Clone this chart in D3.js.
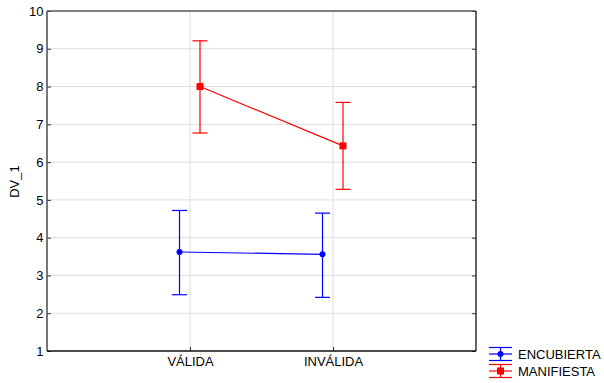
<!DOCTYPE html>
<html>
<head>
<meta charset="utf-8">
<script src="https://cdn.jsdelivr.net/npm/d3@7"></script>
<style>
  body { margin: 0; background: #fff; }
  svg { display: block; font-family: "Liberation Sans", Arial, sans-serif; }
</style>
</head>
<body>
<svg id="chart" width="604" height="383"></svg>
<script>
// Conditions on the x axis
const categories = ["VÁLIDA", "INVÁLIDA"];
// Y axis ticks
const yTicks = [1, 2, 3, 4, 5, 6, 7, 8, 9, 10];

// Group means with lower / upper limits of the confidence interval
const seriesNames = ["ENCUBIERTA", "MANIFIESTA"];
const encubiertaMean  = [3.62, 3.56];
const encubiertaLower = [2.49, 2.42];
const encubiertaUpper = [4.72, 4.65];
const manifiestaMean  = [8.00, 6.43];
const manifiestaLower = [6.77, 5.28];
const manifiestaUpper = [9.21, 7.58];

const series = [
  { name: seriesNames[0], mean: encubiertaMean, lo: encubiertaLower, hi: encubiertaUpper,
    color: "#0000ff", shape: "circle", offset: -10.5 },
  { name: seriesNames[1], mean: manifiestaMean, lo: manifiestaLower, hi: manifiestaUpper,
    color: "#ff0000", shape: "square", offset: 10 }
];

const fontSize = 13;
const svg = d3.select("#chart");
const plotLeft = 47, plotRight = 476, plotTop = 11, plotBottom = 351;

const x = d3.scalePoint().domain(categories).range([plotLeft, plotRight]).padding(1);
const y = d3.scaleLinear().domain([1, 10]).range([plotBottom, plotTop]);

// Grid
const grid = svg.append("g").attr("stroke", "#dddddd").attr("stroke-width", 1);
grid.selectAll("line.h").data(yTicks.slice(1, -1)).join("line")
  .attr("x1", plotLeft).attr("x2", plotRight)
  .attr("y1", d => y(d)).attr("y2", d => y(d));
grid.selectAll("line.v").data(categories).join("line")
  .attr("x1", d => x(d)).attr("x2", d => x(d))
  .attr("y1", plotTop).attr("y2", plotBottom);

// Axes (ticks pointing into the plot)
svg.append("g").attr("transform", `translate(${plotLeft},0)`)
  .call(d3.axisLeft(y).tickValues(yTicks).tickSize(-4).tickPadding(3.5).tickFormat(d3.format("d")))
  .call(g => g.select(".domain").remove())
  .call(g => g.selectAll("line").attr("stroke", "#333"))
  .call(g => g.selectAll("text").attr("font-size", fontSize).attr("fill", "#000")
    .attr("font-family", "Liberation Sans, Arial, sans-serif"));

svg.append("g").attr("transform", `translate(${plotRight},0)`)
  .call(d3.axisRight(y).tickValues(yTicks).tickSize(-4).tickFormat(""))
  .call(g => g.select(".domain").remove())
  .call(g => g.selectAll("line").attr("stroke", "#333"));

svg.append("g").attr("transform", `translate(0,${plotBottom})`)
  .call(d3.axisBottom(x).tickSize(-4).tickPadding(5.8))
  .call(g => g.select(".domain").remove())
  .call(g => g.selectAll("line").attr("stroke", "#333"))
  .call(g => g.selectAll("text").attr("font-size", fontSize).attr("fill", "#000")
    .attr("font-family", "Liberation Sans, Arial, sans-serif"));

// Frame
svg.append("line").attr("x1", plotLeft).attr("x2", plotRight).attr("y1", plotTop).attr("y2", plotTop)
  .attr("stroke", "#555").attr("stroke-width", 1.6);
svg.append("line").attr("x1", plotLeft).attr("x2", plotLeft).attr("y1", plotTop).attr("y2", plotBottom)
  .attr("stroke", "#555").attr("stroke-width", 1.6);
svg.append("line").attr("x1", plotLeft).attr("x2", plotRight).attr("y1", plotBottom).attr("y2", plotBottom)
  .attr("stroke", "#111").attr("stroke-width", 1.3);
svg.append("line").attr("x1", plotRight).attr("x2", plotRight).attr("y1", plotTop).attr("y2", plotBottom)
  .attr("stroke", "#111").attr("stroke-width", 1.3);

// Y axis title
svg.append("text").attr("transform", "translate(19,181.5) rotate(-90)")
  .attr("text-anchor", "middle").attr("font-size", fontSize).text("DV_1");

// Series: connecting line, error bars and markers
const capW = 7.5;
series.forEach(s => {
  const g = svg.append("g").attr("stroke", s.color).attr("fill", s.color);
  const px = (c) => x(c) + s.offset;
  g.append("path")
    .attr("fill", "none").attr("stroke-width", 1.2)
    .attr("d", d3.line().x((d, i) => px(categories[i])).y(d => y(d))(s.mean));
  categories.forEach((c, i) => {
    const cx = px(c);
    g.append("line").attr("x1", cx).attr("x2", cx)
      .attr("y1", y(s.lo[i])).attr("y2", y(s.hi[i])).attr("stroke-width", 1.2);
    [s.lo[i], s.hi[i]].forEach(v => {
      g.append("line").attr("x1", cx - capW).attr("x2", cx + capW)
        .attr("y1", y(v)).attr("y2", y(v)).attr("stroke-width", 1.2);
    });
    if (s.shape === "circle") {
      g.append("circle").attr("cx", cx).attr("cy", y(s.mean[i])).attr("r", 3).attr("stroke", "none");
    } else {
      g.append("rect").attr("x", cx - 3.5).attr("y", y(s.mean[i]) - 3.5)
        .attr("width", 7).attr("height", 7).attr("stroke", "none");
    }
  });
});

// Legend
const legend = svg.append("g");
series.forEach((s, i) => {
  const cy = 354 + i * 17;
  const lx = 500.5;
  const g = legend.append("g").attr("stroke", s.color).attr("fill", s.color).attr("stroke-width", 1.2);
  g.append("line").attr("x1", lx).attr("x2", lx).attr("y1", cy - 6.5).attr("y2", cy + 6.5);
  [-6.5, 0, 6.5].forEach(dy => {
    g.append("line").attr("x1", lx - 11.5).attr("x2", lx + 11.5).attr("y1", cy + dy).attr("y2", cy + dy);
  });
  if (s.shape === "circle") {
    g.append("circle").attr("cx", lx).attr("cy", cy).attr("r", 3).attr("stroke", "none");
  } else {
    g.append("rect").attr("x", lx - 3.5).attr("y", cy - 3.5).attr("width", 7).attr("height", 7).attr("stroke", "none");
  }
  legend.append("text").attr("x", 518).attr("y", cy + 4.5).attr("font-size", fontSize).text(s.name);
});
</script>
</body>
</html>
